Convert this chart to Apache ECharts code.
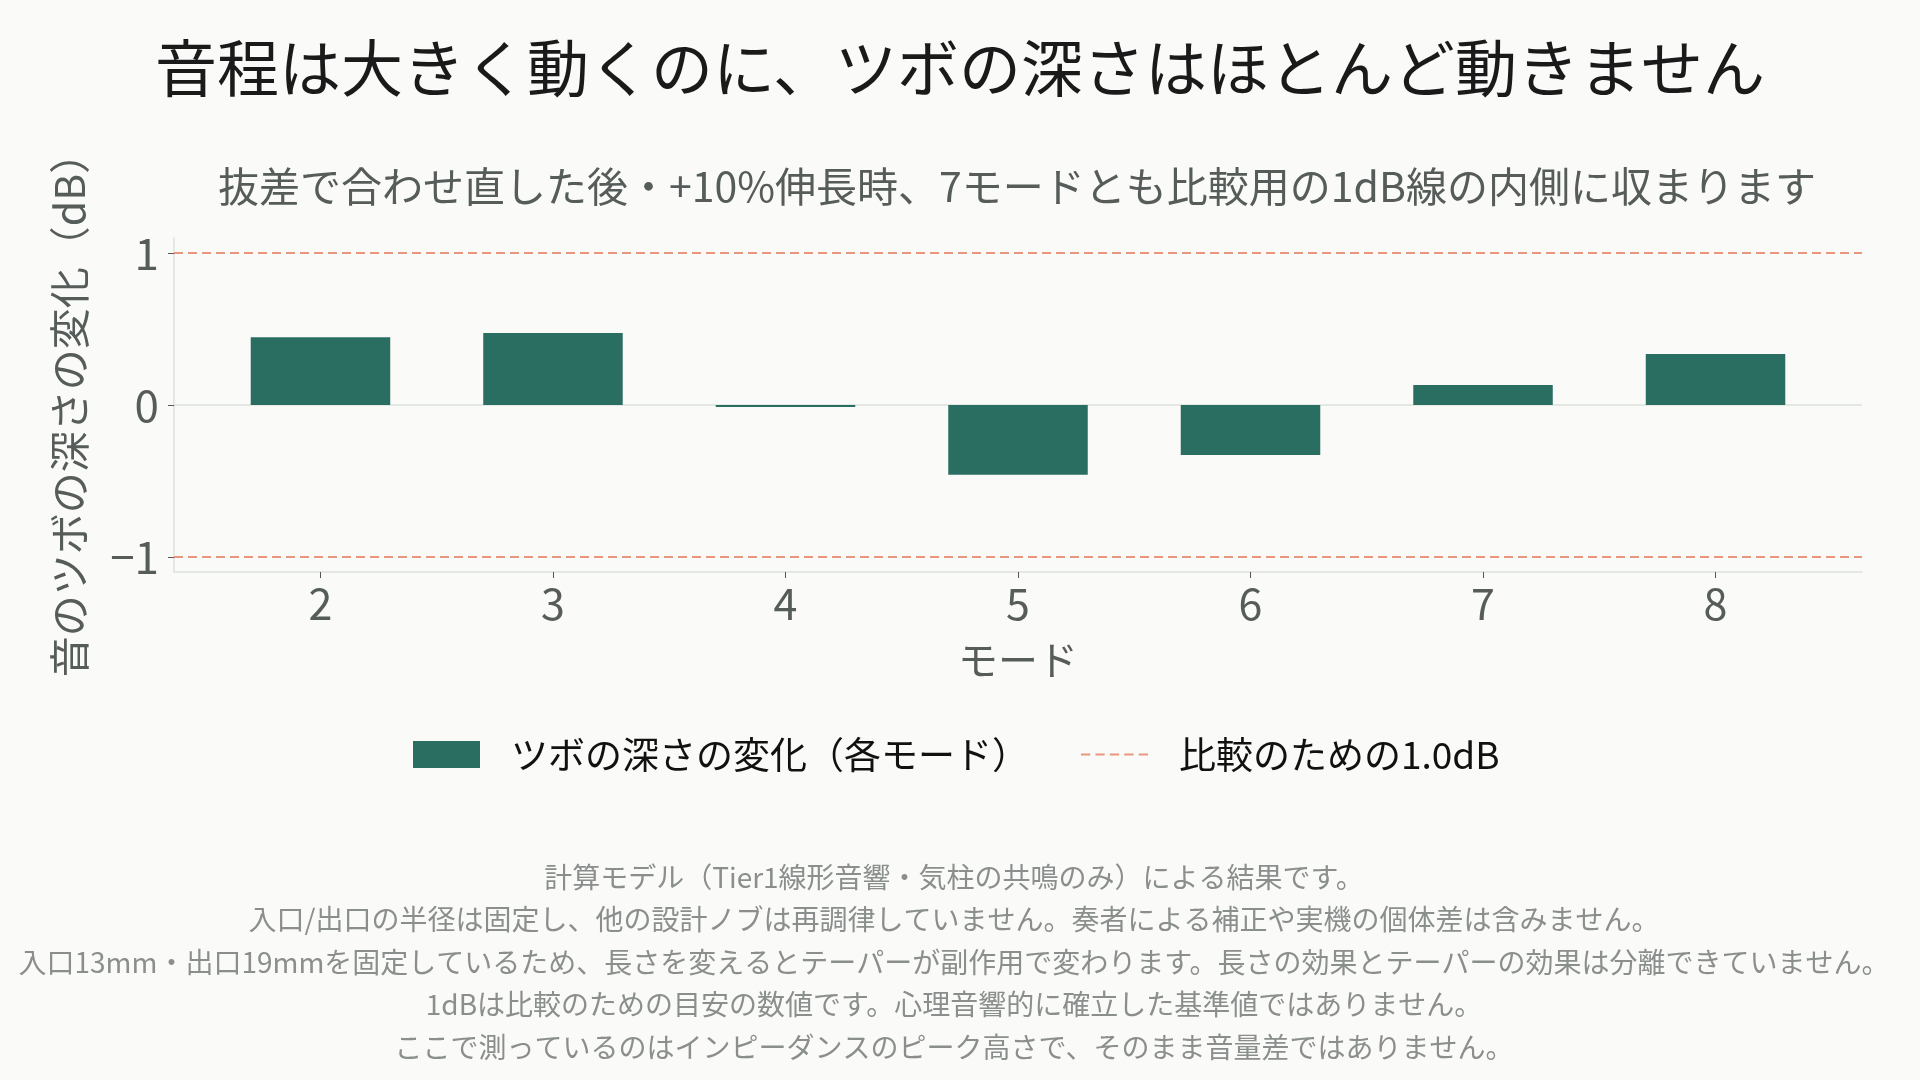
<!DOCTYPE html>
<html>
<head>
<meta charset="utf-8">
<title>ツボの深さの変化</title>
<script src="https://cdn.jsdelivr.net/npm/echarts@6/dist/echarts.min.js"></script>
<style>
  html, body { margin: 0; padding: 0; background: #FAFAF8; }
  #chart { width: 1920px; height: 1080px; }
</style>
</head>
<body>
<div id="chart"></div>
<script>
// モード番号と各モードのツボの深さの変化 (dB)
var modes = [2, 3, 4, 5, 6, 7, 8];
var depthChange = [0.447, 0.474, -0.013, -0.46, -0.33, 0.132, 0.336];
// 比較用の ±1dB 線
var refLines = [1, -1];
var yTicks = [-1, 0, 1];

var mainTitle = '音程は大きく動くのに、ツボの深さはほとんど動きません';
var subTitle = '抜差で合わせ直した後・+10%伸長時、7モードとも比較用の1dB線の内側に収まります';
var footnotes = [
  '計算モデル（Tier1線形音響・気柱の共鳴のみ）による結果です。',
  '入口/出口の半径は固定し、他の設計ノブは再調律していません。奏者による補正や実機の個体差は含みません。',
  '入口13mm・出口19mmを固定しているため、長さを変えるとテーパーが副作用で変わります。長さの効果とテーパーの効果は分離できていません。',
  '1dBは比較のための目安の数値です。心理音響的に確立した基準値ではありません。',
  'ここで測っているのはインピーダンスのピーク高さで、そのまま音量差ではありません。'
];
var barName = 'ツボの深さの変化（各モード）';
var refName = '比較のための1.0dB';

var FONT = '"Noto Sans CJK JP", "Noto Sans", sans-serif';
var GREEN = '#2A6E62';
var SALMON = '#EA967E';
var SPINE = '#DCE2DF';
var AXISTXT = '#555C59';

// 凡例用の破線アイコン
var dashIcon = 'path://M0 0h9v2h-9z M14 0h9v2h-9z M28 0h9v2h-9z M42 0h9v2h-9z M56 0h9v2h-9z';

var myChart = echarts.init(document.getElementById('chart'));

var option = {
  backgroundColor: '#FAFAF8',
  textStyle: { fontFamily: FONT },
  animation: false,
  title: [
    {
      text: mainTitle,
      left: 960, top: 37, textAlign: 'center', padding: 0,
      textStyle: { fontSize: 62, lineHeight: 62, fontWeight: 'normal', color: '#1A1A1A', fontFamily: FONT }
    },
    {
      text: subTitle,
      left: 1017, top: 166, textAlign: 'center', padding: 0,
      textStyle: { fontSize: 41, lineHeight: 41, fontWeight: 'normal', color: AXISTXT, fontFamily: FONT }
    },
    {
      text: footnotes.join('\n'),
      left: 954, top: 856, textAlign: 'center', padding: 0,
      textStyle: { fontSize: 28, lineHeight: 42.5, fontWeight: 'normal', color: '#8A8F8D', fontFamily: FONT }
    }
  ],
  legend: [
    {
      data: [barName],
      left: 413, top: 736, padding: 0,
      itemWidth: 67, itemHeight: 27,
      icon: 'rect',
      textStyle: { fontSize: 37, color: '#111', fontFamily: FONT, padding: [0, 0, 0, 26] }
    },
    {
      data: [{ name: refName, icon: dashIcon }],
      left: 1081, top: 736, padding: 0,
      itemWidth: 67, itemHeight: 27,
      textStyle: { fontSize: 37, color: '#111', fontFamily: FONT, padding: [0, 0, 0, 26] }
    }
  ],
  grid: { left: 174, right: 58, top: 238, bottom: 508 },
  xAxis: {
    type: 'value',
    min: modes[0] - 0.63,
    max: modes[modes.length - 1] + 0.63,
    name: 'モード',
    nameLocation: 'middle',
    nameGap: 68,
    nameTextStyle: { fontSize: 40, color: AXISTXT, fontFamily: FONT },
    splitLine: { show: false },
    axisLine: { show: true, onZero: false, lineStyle: { color: SPINE, width: 1.5 } },
    axisTick: { show: true, length: 6, customValues: modes, lineStyle: { color: '#555', width: 1 } },
    axisLabel: { customValues: modes, margin: 10, fontSize: 43, color: AXISTXT, fontFamily: FONT }
  },
  yAxis: {
    type: 'value',
    min: -1.1,
    max: 1.1,
    name: '音のツボの深さの変化（dB）',
    nameLocation: 'middle',
    nameGap: 84,
    nameTextStyle: { fontSize: 41, color: AXISTXT, fontFamily: FONT },
    splitLine: { show: false },
    axisLine: { show: true, onZero: false, lineStyle: { color: SPINE, width: 1.5 } },
    axisTick: { show: true, length: 6, customValues: yTicks, lineStyle: { color: '#555', width: 1 } },
    axisLabel: {
      customValues: yTicks, margin: 15, fontSize: 44, color: AXISTXT, fontFamily: FONT,
      formatter: function (v) { return v < 0 ? '\u2212' + Math.abs(v) : String(v); }
    }
  },
  series: [
    {
      name: barName,
      type: 'bar',
      barWidth: '60%',
      itemStyle: { color: GREEN },
      data: modes.map(function (m, i) { return [m, depthChange[i]]; }),
      markLine: {
        silent: true,
        symbol: 'none',
        label: { show: false },
        z: 1,
        lineStyle: { color: SPINE, width: 1.5, type: 'solid' },
        data: [{ yAxis: 0 }]
      }
    },
    {
      name: refName,
      type: 'line',
      data: [],
      symbol: 'none',
      itemStyle: { color: SALMON },
      lineStyle: { color: SALMON, width: 2, type: [9, 5] },
      markLine: {
        silent: true,
        symbol: 'none',
        label: { show: false },
        lineStyle: { color: SALMON, width: 2, type: [9, 5] },
        data: refLines.map(function (v) { return { yAxis: v }; })
      }
    }
  ]
};

myChart.setOption(option);
</script>
</body>
</html>
